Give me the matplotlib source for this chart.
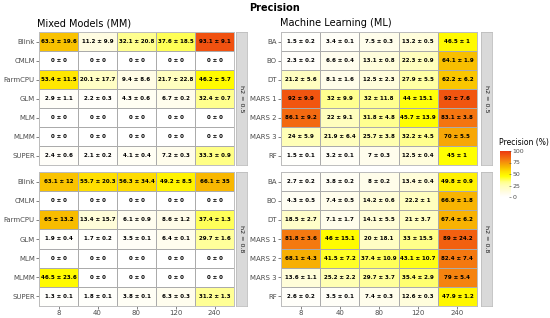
import numpy as np
import matplotlib
matplotlib.use('Agg')
import matplotlib.pyplot as plt
from matplotlib.colors import LinearSegmentedColormap

# x categories
sizes = ['8', '40', '80', '120', '240']

mm_methods = ['Blink', 'CMLM', 'FarmCPU', 'GLM', 'MLM', 'MLMM', 'SUPER']
ml_methods = ['BA', 'BO', 'DT', 'MARS 1', 'MARS 2', 'MARS 3', 'RF']

# mean precision (%) and sd, rows = methods, cols = sizes
mm_05_mean = [[63.3, 11.2, 32.1, 37.6, 93.1],
              [0, 0, 0, 0, 0],
              [53.4, 20.1, 9.4, 21.7, 46.2],
              [2.9, 2.2, 4.3, 6.7, 32.4],
              [0, 0, 0, 0, 0],
              [0, 0, 0, 0, 0],
              [2.4, 2.1, 4.1, 7.2, 33.3]]
mm_05_sd = [[19.6, 9.9, 20.8, 18.5, 9.1],
            [0, 0, 0, 0, 0],
            [11.5, 17.7, 8.6, 22.8, 5.7],
            [1.1, 0.3, 0.6, 0.2, 0.7],
            [0, 0, 0, 0, 0],
            [0, 0, 0, 0, 0],
            [0.6, 0.2, 0.4, 0.3, 0.9]]

mm_08_mean = [[63.1, 55.7, 56.3, 49.2, 66.1],
              [0, 0, 0, 0, 0],
              [65, 13.4, 6.1, 8.6, 37.4],
              [1.9, 1.7, 3.5, 6.4, 29.7],
              [0, 0, 0, 0, 0],
              [46.5, 0, 0, 0, 0],
              [1.3, 1.8, 3.8, 6.3, 31.2]]
mm_08_sd = [[12, 20.3, 34.4, 8.5, 35],
            [0, 0, 0, 0, 0],
            [13.2, 15.7, 0.9, 1.2, 1.3],
            [0.4, 0.2, 0.1, 0.1, 1.6],
            [0, 0, 0, 0, 0],
            [23.6, 0, 0, 0, 0],
            [0.1, 0.1, 0.1, 0.3, 1.3]]

ml_05_mean = [[1.5, 3.4, 7.5, 13.2, 46.5],
              [2.3, 6.6, 13.1, 22.3, 64.1],
              [21.2, 8.1, 12.5, 27.9, 62.2],
              [92, 32, 32, 44, 92],
              [86.1, 22, 31.8, 45.7, 83.1],
              [24, 21.9, 25.7, 32.2, 70],
              [1.5, 3.2, 7, 12.5, 45]]
ml_05_sd = [[0.2, 0.1, 0.3, 0.5, 1],
            [0.2, 0.4, 0.8, 0.9, 1.9],
            [5.6, 1.6, 2.3, 5.5, 6.2],
            [9.9, 9.9, 11.8, 15.1, 7.6],
            [9.2, 9.1, 4.8, 13.9, 3.8],
            [5.9, 6.4, 3.8, 4.5, 5.5],
            [0.1, 0.1, 0.3, 0.4, 1]]

ml_08_mean = [[2.7, 3.8, 8, 13.4, 49.8],
              [4.3, 7.4, 14.2, 22.2, 66.9],
              [18.5, 7.1, 14.1, 21, 67.4],
              [81.8, 46, 20, 33, 89],
              [68.1, 41.5, 37.4, 43.1, 82.4],
              [13.6, 25.2, 29.7, 35.4, 79],
              [2.6, 3.5, 7.4, 12.6, 47.9]]
ml_08_sd = [[0.2, 0.2, 0.2, 0.4, 0.9],
            [0.5, 0.5, 0.6, 1, 1.8],
            [2.7, 1.7, 5.5, 3.7, 6.2],
            [3.6, 15.1, 18.1, 15.5, 24.2],
            [4.3, 7.2, 10.9, 10.7, 7.4],
            [1.1, 2.2, 3.7, 2.9, 5.4],
            [0.2, 0.1, 0.3, 0.3, 1.2]]

cmap = LinearSegmentedColormap.from_list('prec', [
    (0.0, '#FFFFFF'), (0.1, '#FFFCE4'), (0.25, '#FFFFB4'), (0.33, '#FFFF8A'),
    (0.45, '#FFFF00'), (0.55, '#FFE200'), (0.65, '#F8BC00'), (0.8, '#F58010'),
    (0.9, '#F25C10'), (1.0, '#EC3A10')])

W, H = 550, 318
fig = plt.figure(figsize=(W / 100, H / 100), dpi=100)


def px_axes(x0, y0, x1, y1):
    # pixel box (top-left origin) -> figure axes
    return fig.add_axes([x0 / W, 1 - y1 / H, (x1 - x0) / W, (y1 - y0) / H])


def fmt(v):
    return ('%.1f' % v).rstrip('0').rstrip('.')


def heat(ax, mean, sd, rows, show_x):
    m = np.array(mean, dtype=float)
    s = np.array(sd, dtype=float)
    ax.pcolormesh(np.arange(len(sizes) + 1) - 0.5, np.arange(len(rows) + 1) - 0.5, m,
                  cmap=cmap, vmin=0, vmax=100, edgecolors='#ABABAB', linewidth=0.4)
    for i in range(len(rows)):
        for j in range(len(sizes)):
            ax.text(j, i, f'{fmt(m[i, j])} ± {fmt(s[i, j])}', ha='center', va='center',
                    fontsize=4.0, fontweight='bold', color='black')
    ax.set_xlim(-0.5, len(sizes) - 0.5)
    ax.set_ylim(len(rows) - 0.5, -0.5)
    ax.set_yticks(range(len(rows)))
    ax.set_yticklabels(rows)
    ax.set_xticks(range(len(sizes)))
    ax.set_xticklabels(sizes if show_x else [])
    ax.tick_params(labelsize=5, colors='#4D4D4D', length=2, width=0.5, pad=1,
                   bottom=show_x)
    for sp in ax.spines.values():
        sp.set_color('#BDBDBD')
        sp.set_linewidth(0.7)


def strip(x0, y0, x1, y1, label):
    ax = px_axes(x0, y0, x1, y1)
    ax.set_facecolor('#D9D9D9')
    ax.set_xticks([])
    ax.set_yticks([])
    for sp in ax.spines.values():
        sp.set_color('#BDBDBD')
        sp.set_linewidth(0.6)
    ax.text(0.5, 0.5, label, rotation=-90, ha='center', va='center',
            fontsize=4.6, color='#1A1A1A', transform=ax.transAxes)


top = (32, 165)
bot = (172, 306)
left = (39, 234)
right = (281, 477)

heat(px_axes(left[0], top[0], left[1], top[1]), mm_05_mean, mm_05_sd, mm_methods, False)
heat(px_axes(left[0], bot[0], left[1], bot[1]), mm_08_mean, mm_08_sd, mm_methods, True)
heat(px_axes(right[0], top[0], right[1], top[1]), ml_05_mean, ml_05_sd, ml_methods, False)
heat(px_axes(right[0], bot[0], right[1], bot[1]), ml_08_mean, ml_08_sd, ml_methods, True)

strip(236, top[0], 247, top[1], 'h2 = 0.5')
strip(236, bot[0], 247, bot[1], 'h2 = 0.8')
strip(481, top[0], 492, top[1], 'h2 = 0.5')
strip(481, bot[0], 492, bot[1], 'h2 = 0.8')

fig.text(275 / W, 1 - 8 / H, 'Precision', ha='center', va='center',
         fontsize=7, fontweight='bold')
fig.text(37 / W, 1 - 23 / H, 'Mixed Models (MM)', ha='left', va='center', fontsize=7)
fig.text(280 / W, 1 - 23 / H, 'Machine Learning (ML)', ha='left', va='center', fontsize=7)

# colour bar legend
cax = px_axes(500, 151, 511, 197)
cax.imshow(np.linspace(100, 0, 200).reshape(-1, 1), cmap=cmap, vmin=0, vmax=100,
           aspect='auto', extent=[0, 1, 0, 100])
cax.set_xticks([])
cax.yaxis.tick_right()
cax.set_yticks([0, 25, 50, 75, 100])
cax.tick_params(axis='y', labelsize=4.5, colors='#4D4D4D', length=1.5, width=0.4,
                pad=1, direction='in')
for sp in cax.spines.values():
    sp.set_visible(False)
fig.text(499 / W, 1 - 143 / H, 'Precision (%)', ha='left', va='center', fontsize=5.5)

fig.savefig('out.png', dpi=100)
